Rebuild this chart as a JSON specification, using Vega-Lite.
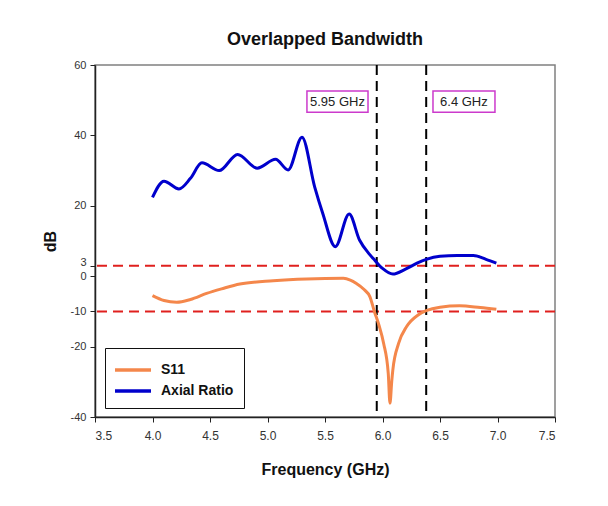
{
  "$schema": "https://vega.github.io/schema/vega-lite/v6.json",
  "width": 460,
  "height": 352,
  "autosize": "none",
  "padding": {"left": 95, "top": 65, "right": 53, "bottom": 89},
  "background": "white",
  "title": {"text": "Overlapped Bandwidth", "font": "Liberation Sans", "fontSize": 18, "fontWeight": "bold", "color": "#111", "offset": 10},
  "config": {
    "view": {"stroke": "#808080", "strokeWidth": 1.5},
    "axis": {"labelFont": "Liberation Sans Narrow, Liberation Sans", "labelFontSize": 12, "labelColor": "#333", "titleFont": "Liberation Sans", "titleFontWeight": "bold", "titleColor": "#111", "domainColor": "#222", "tickColor": "#222", "domainWidth": 1.5, "grid": false, "tickSize": 5}
  },
  "layer": [
    {
      "data": {"values": [{"level": 3}, {"level": -10}]},
      "mark": {"type": "rule", "color": "#E0201E", "strokeWidth": 2, "strokeDash": [10, 6]},
      "encoding": {"y": {"field": "level", "type": "quantitative", "scale": {"domain": [-40, 60]}}}
    },
    {
      "data": {"values": [{"edge": 5.95}, {"edge": 6.38}]},
      "mark": {"type": "rule", "color": "#000", "strokeWidth": 2, "strokeDash": [10, 6]},
      "encoding": {"x": {"field": "edge", "type": "quantitative", "scale": {"domain": [3.5, 7.5]}}}
    },
    {
      "data": {"values": [
        {"series": "Axial Ratio", "freq": 4.00, "dB": 22.4},
        {"series": "Axial Ratio", "freq": 4.10, "dB": 27.0},
        {"series": "Axial Ratio", "freq": 4.23, "dB": 24.8},
        {"series": "Axial Ratio", "freq": 4.33, "dB": 27.8},
        {"series": "Axial Ratio", "freq": 4.43, "dB": 32.2},
        {"series": "Axial Ratio", "freq": 4.58, "dB": 30.0},
        {"series": "Axial Ratio", "freq": 4.74, "dB": 34.6},
        {"series": "Axial Ratio", "freq": 4.91, "dB": 30.7},
        {"series": "Axial Ratio", "freq": 5.07, "dB": 33.2},
        {"series": "Axial Ratio", "freq": 5.18, "dB": 30.2},
        {"series": "Axial Ratio", "freq": 5.30, "dB": 39.5},
        {"series": "Axial Ratio", "freq": 5.41, "dB": 25.4},
        {"series": "Axial Ratio", "freq": 5.48, "dB": 17.9},
        {"series": "Axial Ratio", "freq": 5.59, "dB": 8.4},
        {"series": "Axial Ratio", "freq": 5.71, "dB": 17.7},
        {"series": "Axial Ratio", "freq": 5.80, "dB": 10.3},
        {"series": "Axial Ratio", "freq": 5.88, "dB": 6.5},
        {"series": "Axial Ratio", "freq": 5.92, "dB": 5.0},
        {"series": "Axial Ratio", "freq": 6.00, "dB": 2.2},
        {"series": "Axial Ratio", "freq": 6.09, "dB": 0.6},
        {"series": "Axial Ratio", "freq": 6.20, "dB": 2.0},
        {"series": "Axial Ratio", "freq": 6.30, "dB": 3.7},
        {"series": "Axial Ratio", "freq": 6.38, "dB": 4.8},
        {"series": "Axial Ratio", "freq": 6.50, "dB": 5.7},
        {"series": "Axial Ratio", "freq": 6.65, "dB": 5.9},
        {"series": "Axial Ratio", "freq": 6.79, "dB": 5.9},
        {"series": "Axial Ratio", "freq": 6.90, "dB": 4.8},
        {"series": "Axial Ratio", "freq": 6.99, "dB": 3.7},
        {"series": "S11", "freq": 4.00, "dB": -5.5},
        {"series": "S11", "freq": 4.10, "dB": -6.9},
        {"series": "S11", "freq": 4.21, "dB": -7.4},
        {"series": "S11", "freq": 4.33, "dB": -6.6},
        {"series": "S11", "freq": 4.47, "dB": -4.9},
        {"series": "S11", "freq": 4.60, "dB": -3.6},
        {"series": "S11", "freq": 4.76, "dB": -2.2},
        {"series": "S11", "freq": 5.05, "dB": -1.3},
        {"series": "S11", "freq": 5.34, "dB": -0.8},
        {"series": "S11", "freq": 5.66, "dB": -0.6},
        {"series": "S11", "freq": 5.72, "dB": -1.1},
        {"series": "S11", "freq": 5.77, "dB": -2.0},
        {"series": "S11", "freq": 5.84, "dB": -3.8},
        {"series": "S11", "freq": 5.89, "dB": -5.8},
        {"series": "S11", "freq": 5.93, "dB": -10.1},
        {"series": "S11", "freq": 5.97, "dB": -14.0},
        {"series": "S11", "freq": 6.01, "dB": -19.1},
        {"series": "S11", "freq": 6.05, "dB": -27.6},
        {"series": "S11", "freq": 6.065, "dB": -36.1},
        {"series": "S11", "freq": 6.08, "dB": -30.0},
        {"series": "S11", "freq": 6.09, "dB": -26.6},
        {"series": "S11", "freq": 6.14, "dB": -19.1},
        {"series": "S11", "freq": 6.21, "dB": -14.3},
        {"series": "S11", "freq": 6.31, "dB": -11.0},
        {"series": "S11", "freq": 6.38, "dB": -9.8},
        {"series": "S11", "freq": 6.50, "dB": -8.8},
        {"series": "S11", "freq": 6.67, "dB": -8.4},
        {"series": "S11", "freq": 6.85, "dB": -8.9},
        {"series": "S11", "freq": 6.99, "dB": -9.4}
      ]},
      "mark": {"type": "line", "strokeWidth": 3, "interpolate": "monotone"},
      "encoding": {
        "x": {"field": "freq", "type": "quantitative", "scale": {"domain": [3.5, 7.5], "nice": false}, "axis": {"values": [3.5, 4, 4.5, 5, 5.5, 6, 6.5, 7, 7.5], "format": ".1f", "title": "Frequency (GHz)", "titleFontSize": 16, "titlePadding": 20, "labelPadding": 8}},
        "y": {"field": "dB", "type": "quantitative", "scale": {"domain": [-40, 60], "nice": false}, "axis": {"values": [-40, -20, -10, 0, 3, 20, 40, 60], "labelExpr": "'' + datum.value", "labelOverlap": false, "labelFontSize": 11, "labelOffset": {"condition": {"test": "datum.value == 3", "value": -3}, "value": 0}, "title": "dB", "titleFontSize": 16, "titlePadding": 12, "labelPadding": 4}},
        "color": {"field": "series", "type": "nominal", "scale": {"domain": ["S11", "Axial Ratio"], "range": ["#F4874B", "#0000CC"]},
          "legend": {"title": null, "orient": "none", "legendX": 10, "legendY": 283, "direction": "vertical", "symbolType": "M-1.8,0L1.8,0", "symbolStrokeWidth": 3.5, "symbolSize": 400, "symbolOffset": 6, "labelOffset": 16, "labelFont": "Liberation Sans", "labelFontWeight": "bold", "labelFontSize": 14, "labelColor": "#111", "strokeColor": "#111", "fillColor": "white", "padding": 10, "rowPadding": 2}},
        "order": {"field": "freq", "type": "quantitative"}
      }
    },
    {
      "data": {"values": [
        {"label": "5.95 GHz", "x0": 5.343, "x1": 5.874, "y0": 46.6, "y1": 52.6, "xc": 5.608, "yc": 49.6},
        {"label": "6.4 GHz", "x0": 6.439, "x1": 6.978, "y0": 46.6, "y1": 52.6, "xc": 6.708, "yc": 49.6}
      ]},
      "layer": [
        {"mark": {"type": "rect", "fill": "white", "stroke": "#CC3ACC", "strokeWidth": 1.5},
         "encoding": {"x": {"field": "x0", "type": "quantitative"}, "x2": {"field": "x1"}, "y": {"field": "y0", "type": "quantitative"}, "y2": {"field": "y1"}}},
        {"mark": {"type": "text", "font": "Liberation Sans Narrow, Liberation Sans", "fontSize": 13, "color": "#222", "baseline": "middle", "align": "center"},
         "encoding": {"x": {"field": "xc", "type": "quantitative"}, "y": {"field": "yc", "type": "quantitative"}, "text": {"field": "label"}}}
      ]
    }
  ]
}
